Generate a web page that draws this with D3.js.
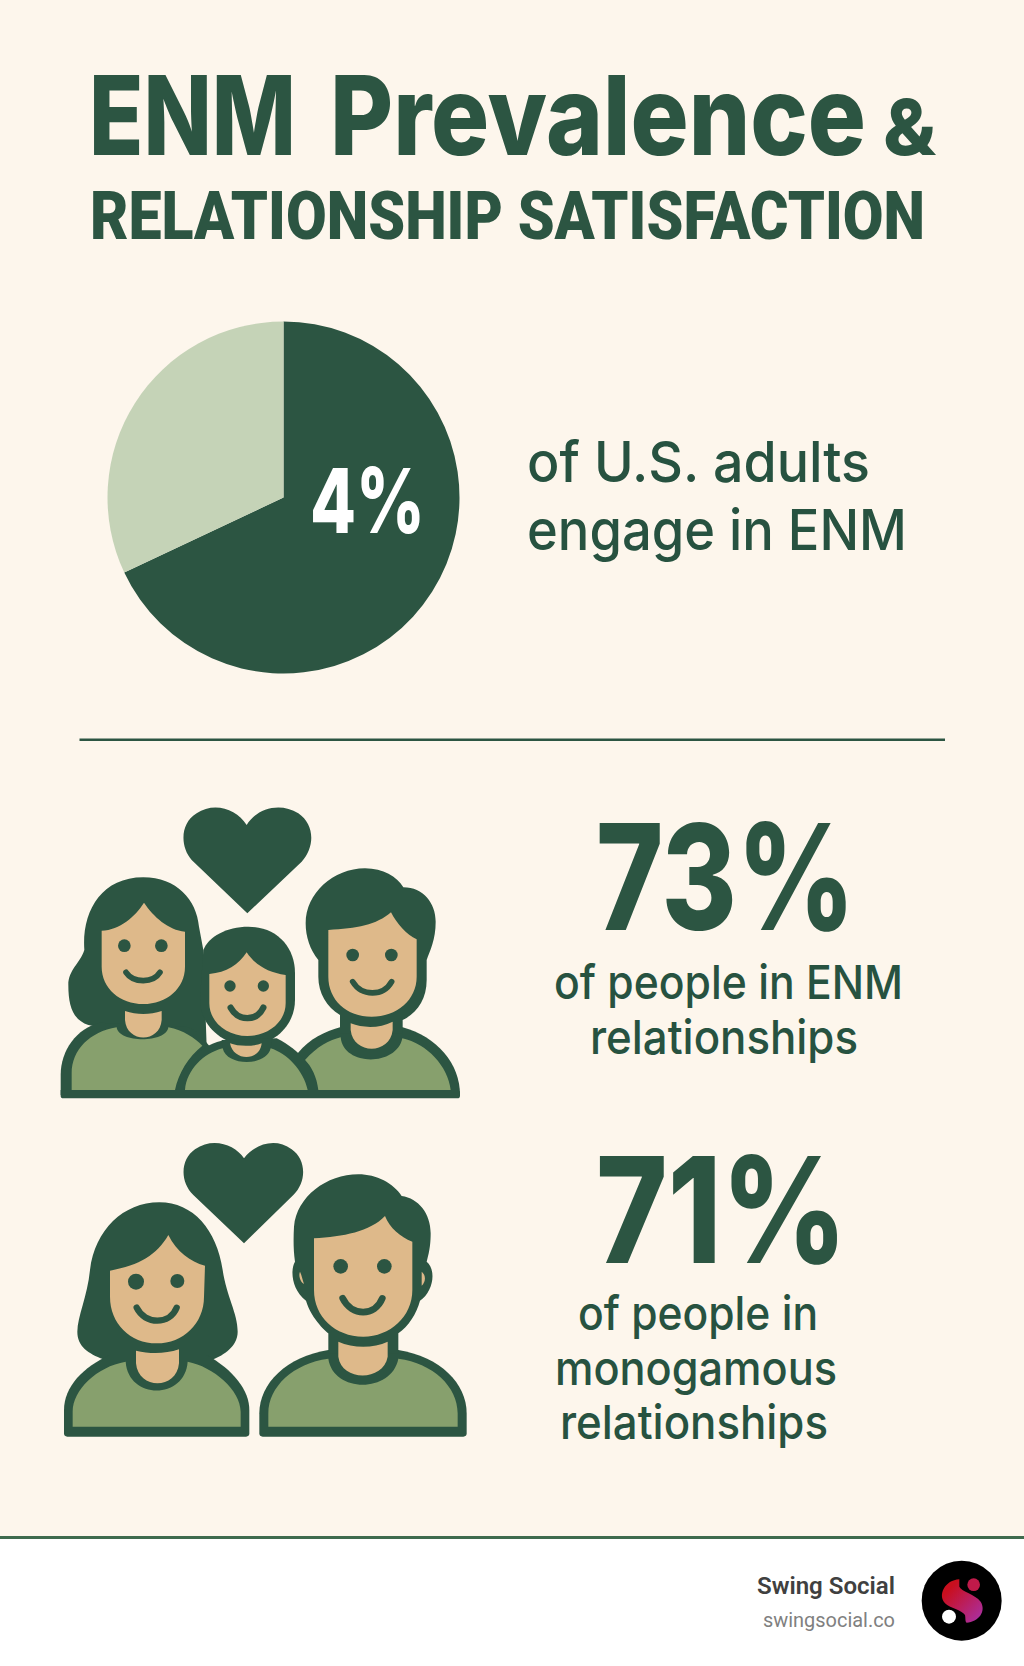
<!DOCTYPE html>
<html><head><meta charset="utf-8">
<script src="https://cdn.jsdelivr.net/npm/d3@7"></script>
<style>html,body{margin:0;padding:0;background:#fff}svg{display:block}</style>
</head><body><div id="c"></div>
<script>
// DATA
const titleMain = ["ENM", "Prevalence"];
const titleAmp = "&";
const titleSub = "RELATIONSHIP SATISFACTION";
const pieCategories = ["main", "rest"];
const pieValues = [68, 32];              // slice shares as drawn in the picture
const pieLabel = "4%";
const pieCaption = ["of U.S. adults", "engage in ENM"];
const statValues = [73, 71];
const statCaptions = [["of people in ENM", "relationships"], ["of people in", "monogamous", "relationships"]];
const brandName = "Swing Social";
const brandUrl = "swingsocial.co";

// STYLE
const W = 1024, H = 1666;
const BG = "#fdf6ec", DARK = "#2c5542", INK = "#275240", GREEN = "#87a06d", TAN = "#deb98a", LIGHT = "#c5d3b7";
const HEAD = "Inter, Roboto, sans-serif";
const BODY = "Inter, Roboto, sans-serif";
const FOOT = "Roboto, sans-serif";

const svg = d3.select("#c").append("svg").attr("width", W).attr("height", H).attr("viewBox", `0 0 ${W} ${H}`);
svg.append("rect").attr("width", W).attr("height", H).attr("fill", "#fff");
svg.append("rect").attr("width", W).attr("height", 1537).attr("fill", BG);
svg.append("rect").attr("y", 1536).attr("width", W).attr("height", 3).attr("fill", "#3f6b4e");

function txt(s, x0, x1, y, size, weight, fill, family) {
  return svg.append("text").text(s).attr("x", x0).attr("y", y)
    .attr("textLength", x1 - x0).attr("lengthAdjust", "spacingAndGlyphs")
    .attr("font-family", family || HEAD).attr("font-size", size).attr("font-weight", weight).attr("fill", fill || DARK);
}

// Title: one text, two word spans fitted to their own widths
const t1 = svg.append("text").attr("y", 155).attr("font-family", HEAD).attr("font-size", 110).attr("font-weight", 800).attr("fill", DARK);
[[89, 296], [330, 866]].forEach((r, i) => {
  t1.append("tspan").attr("x", r[0]).attr("textLength", r[1] - r[0]).attr("lengthAdjust", "spacingAndGlyphs").text(titleMain[i]);
  if (i === 0) t1.node().appendChild(document.createTextNode(" "));
});
txt(titleAmp, 883, 936, 155, 77, 800);
txt(titleSub, 90, 925, 239, 66, 900, DARK, "Roboto, sans-serif");

// Pie
const pie = d3.pie().sort(null).value(d => d);
const arc = d3.arc().innerRadius(0).outerRadius(176);
const colour = d3.scaleOrdinal().domain(pieCategories).range([DARK, LIGHT]);
svg.append("g").attr("transform", "translate(283.5,497.5)")
  .selectAll("path").data(pie(pieValues)).join("path")
  .attr("d", arc).attr("fill", (d, i) => colour(pieCategories[i]));
txt(pieLabel, 310, 425, 533, 90, 800, "#fff");
txt(pieCaption[0], 527, 870, 482, 56, 500, INK, BODY);
txt(pieCaption[1], 527, 907, 550, 56, 500, INK, BODY);

// Divider
svg.append("rect").attr("x", 79.5).attr("y", 738.5).attr("width", 865.5).attr("height", 2.5).attr("fill", DARK);

// Stats
const statFmt = d => d + "%";
txt(statFmt(statValues[0]), 596, 855, 930, 147, 800);
txt(statCaptions[0][0], 554, 903, 999, 47, 500, INK, BODY);
txt(statCaptions[0][1], 590, 858, 1054, 47, 500, INK, BODY);
txt(statFmt(statValues[1]), 596, 847, 1263, 147, 800);
txt(statCaptions[1][0], 578, 818, 1330, 47, 500, INK, BODY);
txt(statCaptions[1][1], 555, 837, 1385, 47, 500, INK, BODY);
txt(statCaptions[1][2], 560, 828, 1439, 47, 500, INK, BODY);

// Icon helpers
function icon(tx, ty, parts) {
  const g = svg.append("g").attr("transform", `translate(${tx},${ty}) scale(${1/3})`);
  parts.forEach(p => {
    if (p.c) g.append("circle").attr("cx", p.c[0]).attr("cy", p.c[1]).attr("r", p.c[2]).attr("fill", DARK);
    else if (p.s) g.append("path").attr("d", p.s).attr("fill", "none").attr("stroke", DARK).attr("stroke-width", p.w).attr("stroke-linecap", "round");
    else g.append("path").attr("d", p.d).attr("fill", p.f);
  });
}

icon(0, 780, [
  {f: DARK, d: "M742,400 L575,240 C540,200 540,130 590,100 C640,65 710,85 740,135 C770,85 840,65 895,100 C945,135 945,200 905,245 Z"},
  // mother
  {f: DARK, d: "M253,510 C245,400 300,292 430,292 C530,292 590,360 597,440 L610,510 L620,800 L265,735 C220,720 205,680 205,615 C205,570 240,550 253,510 Z"},
  {f: DARK, d: "M182,945 L182,885 C182,810 230,745 300,728 L560,740 C590,750 610,775 630,800 L600,945 Z"},
  {f: GREEN, d: "M215,930 L215,880 C215,810 270,755 350,742 C355,790 500,790 505,742 C550,750 585,775 607,797 C565,830 535,880 525,930 Z"},
  {f: TAN, d: "M375,693 L375,720 C380,790 480,790 485,720 L485,693 C450,705 410,705 375,693 Z"},
  {f: TAN, d: "M305,452 C360,450 405,410 432,368 C460,410 505,450 555,455 L555,560 C555,625 500,672 430,672 C360,672 305,625 305,560 Z"},
  {c: [373,497,19]}, {c: [484,497,19]},
  {s: "M378,577 C400,610 460,610 480,577", w: 17},
  // father
  {f: DARK, d: "M893,820 C930,775 975,755 1020,742 L1208,742 C1310,770 1380,850 1380,945 L940,945 Z"},
  {f: DARK, d: "M1095,265 C1150,265 1190,290 1210,322 C1270,322 1307,370 1307,425 C1307,480 1290,510 1280,540 L1280,600 C1280,660 1250,700 1208,720 L1208,760 L1020,760 L1020,705 C980,680 955,640 955,590 L955,540 C930,510 917,470 917,430 C917,340 1000,265 1095,265 Z"},
  {f: GREEN, d: "M955,930 C950,890 935,860 915,840 C950,800 990,780 1022,772 C1030,860 1190,860 1207,775 C1280,790 1345,860 1352,930 Z"},
  {f: TAN, d: "M1052,730 L1052,750 C1060,825 1170,825 1178,750 L1178,725 C1140,745 1090,745 1052,730 Z"},
  {f: TAN, d: "M985,450 C1070,445 1130,435 1173,397 C1190,430 1220,465 1250,478 L1250,590 C1250,660 1190,710 1115,710 C1040,710 985,660 985,590 Z"},
  {c: [1058,525,19]}, {c: [1174,525,19]},
  {s: "M1058,605 C1085,650 1150,650 1175,605", w: 17},
  // child
  {f: DARK, d: "M528,945 C528,870 590,800 665,782 L830,775 C900,810 953,870 953,945 Z"},
  {f: DARK, d: "M610,510 C625,470 680,440 745,440 C830,440 885,500 885,580 L885,660 C885,730 830,795 745,795 C660,795 600,730 600,660 Z"},
  {f: DARK, d: "M665,780 L668,810 C680,870 800,870 812,810 L815,775 Z"},
  {f: GREEN, d: "M555,930 C560,870 610,820 668,805 C680,860 800,860 812,805 C860,820 910,870 923,930 Z"},
  {f: TAN, d: "M690,790 C700,845 780,845 785,790 C760,800 715,800 690,790 Z"},
  {f: TAN, d: "M628,582 C680,578 715,555 740,517 C765,555 805,578 857,585 L857,670 C857,725 805,768 742,768 C680,768 628,725 628,670 Z"},
  {c: [690,618,17]}, {c: [790,618,17]},
  {s: "M692,683 C715,725 770,725 790,683", w: 19},
  // ground
  {f: DARK, d: "M190,930 L1372,930 Q1380,930 1380,938 L1380,947 Q1380,955 1372,955 L190,955 Q182,955 182,947 L182,930 Z"}
]);

icon(0, 1120, [
  {f: DARK, d: "M732,370 L580,225 C540,185 540,120 585,88 C640,50 705,75 732,115 C760,75 825,50 875,88 C920,120 920,185 880,225 Z"},
  // woman
  {f: DARK, d: "M478,247 C580,247 650,330 668,450 C680,530 713,580 713,635 C713,680 670,705 640,718 L310,718 C265,700 232,680 232,635 C232,590 262,530 270,450 C285,330 370,247 478,247 Z"},
  {f: DARK, d: "M192,940 L192,870 C192,800 250,740 330,705 L620,705 C700,750 748,810 748,870 L748,940 Q748,950 738,950 L202,950 Q192,950 192,940 Z"},
  {f: GREEN, d: "M218,920 L218,875 C218,810 290,740 377,725 C385,840 555,840 563,725 C640,740 722,810 722,875 L722,920 Z"},
  {f: TAN, d: "M408,692 L408,730 C415,810 530,810 537,730 L537,688 C495,702 450,702 408,692 Z"},
  {f: TAN, d: "M330,452 C420,435 470,405 505,345 C530,395 570,425 615,437 L612,530 C612,610 550,670 470,670 C390,670 330,610 330,530 Z"},
  {c: [408,485,24]}, {c: [532,483,21]},
  {s: "M410,563 C435,615 510,615 530,563", w: 19},
  // man
  {f: DARK, d: "M778,940 L778,880 C778,790 860,710 985,690 L1195,690 C1320,710 1400,790 1400,880 L1400,940 Q1400,950 1390,950 L788,950 Q778,950 778,940 Z"},
  {f: DARK, d: "M885,425 C870,450 875,510 918,542 C935,600 985,640 985,640 L985,700 L1195,700 L1195,640 C1225,620 1250,580 1260,542 C1300,515 1310,450 1280,425 C1290,390 1292,365 1292,340 C1292,280 1255,235 1205,228 C1180,190 1130,163 1075,163 C980,163 890,230 882,320 C880,355 880,390 885,425 Z"},
  {f: TAN, d: "M900,455 C905,465 908,480 912,492 C900,485 895,465 900,455 Z"},
  {f: TAN, d: "M1265,455 C1278,465 1278,485 1265,497 Z"},
  {f: GREEN, d: "M805,920 L805,880 C805,800 880,730 985,716 C1000,820 1175,820 1195,716 C1300,730 1373,800 1373,880 L1373,920 Z"},
  {f: TAN, d: "M1015,665 L1015,710 C1025,785 1150,785 1163,710 L1163,665 C1120,685 1060,685 1015,665 Z"},
  {f: TAN, d: "M942,355 C1030,350 1110,335 1155,288 C1170,325 1200,350 1237,365 L1237,510 C1237,590 1170,650 1090,650 C1005,650 942,590 942,510 Z"},
  {c: [1022,439,22]}, {c: [1153,439,22]},
  {s: "M1028,535 C1055,590 1125,590 1147,535", w: 20}
]);

// Footer brand
txt(brandName, 757, 895, 1594, 23, 600, "#404040", FOOT);
txt(brandUrl, 763, 895, 1627, 21, 400, "#808080", FOOT);
const defs = svg.append("defs");
const grad = defs.append("linearGradient").attr("id", "sg").attr("x1", 0).attr("y1", 0).attr("x2", 1).attr("y2", 1);
grad.append("stop").attr("offset", "0.2").attr("stop-color", "#c90f1e");
grad.append("stop").attr("offset", "1").attr("stop-color", "#a832ac");
const lg = svg.append("g").attr("transform", "translate(700,1520) scale(" + 1/3 + ")");
lg.append("circle").attr("cx", 785).attr("cy", 242).attr("r", 120).attr("fill", "#000");
lg.append("path").attr("d", "M778,178 C735,180 712,225 735,250 C750,265 785,270 795,285 C797,295 795,305 800,308 C835,305 860,275 842,245 C825,222 785,215 778,200 Z").attr("fill", "url(#sg)");
lg.append("circle").attr("cx", 821).attr("cy", 194).attr("r", 19).attr("fill", "#c01a4a");
lg.append("circle").attr("cx", 747).attr("cy", 290).attr("r", 21).attr("fill", "#fff");
</script></body></html>
